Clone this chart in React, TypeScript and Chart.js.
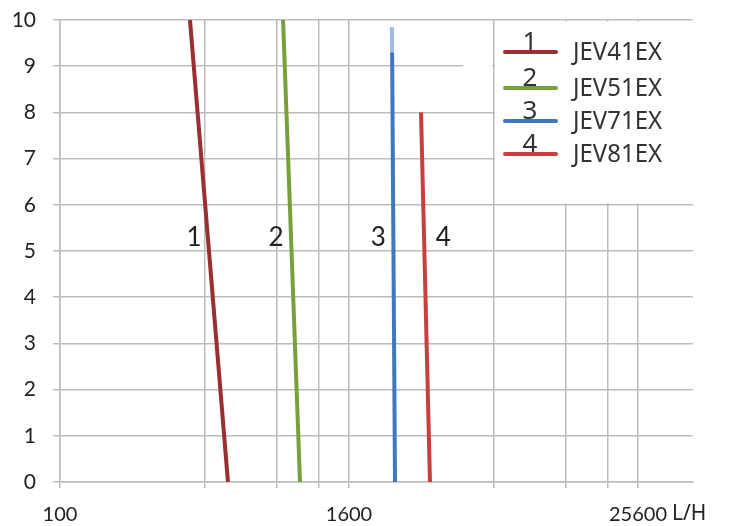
import React, { useEffect, useRef } from "react";
import { Chart, registerables } from "chart.js";

Chart.register(...registerables);

// ---- data ----
const xGridValues = [100, 400, 800, 1200, 1600, 6400, 12800, 19200, 25600];
const xLabelValues = [100, 1600, 25600];
const xUnit = "L/H";

const seriesNames = ["JEV41EX", "JEV51EX", "JEV71EX", "JEV81EX"];
const seriesNumbers = ["1", "2", "3", "4"];
const seriesColors = ["#9a2f31", "#78a03a", "#3f78c0", "#c7403e"];

const s1Flow = [348, 501];
const s1Head = [10, 0];
const s2Flow = [850, 1000];
const s2Head = [10, 0];
const s3Flow = [2420, 2488];
const s3Head = [9.3, 0];
const s3TopFlow = [2415, 2420];
const s3TopHead = [9.85, 9.3];
const s4Flow = [3193, 3480];
const s4Head = [8, 0];

// label anchor heads (in axis units) for in-plot number labels
const annotFlow = [362, 795, 2120, 3950];
const annotHead = [5.3, 5.3, 5.3, 5.3];

const toPts = (xs: number[], ys: number[]) => xs.map((x, i) => ({ x, y: ys[i] }));

const GRID = "#bdbdbd";
const TEXT = "#222222";

export default function App() {
  const ref = useRef<HTMLCanvasElement | null>(null);

  useEffect(() => {
    if (!ref.current) return;

    const overlay = {
      id: "overlay",
      beforeDatasetsDraw(chart: any) {
        const { ctx, chartArea, scales } = chart;
        const xs = scales.x;
        const ys = scales.y;
        ctx.save();
        ctx.fillStyle = "#ffffff";
        const x0 = xs.getPixelForValue(6400) + 1.5;
        ctx.fillRect(x0, ys.getPixelForValue(10) + 1.5, chartArea.right - x0 + 2, ys.getPixelForValue(6) - ys.getPixelForValue(10) - 3);
        // small gap in the 9 line before the legend box
        const gx = xs.getPixelForValue(4780);
        ctx.fillRect(gx, ys.getPixelForValue(9) - 2, x0 - gx - 3, 4);
        ctx.restore();
      },
      afterDraw(chart: any) {
        const { ctx, scales } = chart;
        const xs = scales.x;
        const ys = scales.y;
        ctx.save();
        // in-plot numbers
        ctx.fillStyle = TEXT;
        ctx.font = "26px Lato";
        ctx.textAlign = "center";
        ctx.textBaseline = "middle";
        seriesNumbers.forEach((n, i) => {
          ctx.fillText(n, xs.getPixelForValue(annotFlow[i]), ys.getPixelForValue(annotHead[i]));
        });
        // unit label
        ctx.font = "21px 'Noto Sans'";
        ctx.textAlign = "left";
        ctx.fillText(xUnit, 672, 514, 42);
        // legend
        const lx0 = 505;
        const lx1 = 556;
        const rowY = [52, 88, 121, 154];
        seriesNames.forEach((name, i) => {
          const y = rowY[i];
          ctx.strokeStyle = seriesColors[i];
          ctx.lineWidth = 4;
          ctx.lineCap = "round";
          ctx.beginPath();
          ctx.moveTo(lx0, y);
          ctx.lineTo(lx1, y);
          ctx.stroke();
          ctx.fillStyle = "#333333";
          ctx.font = "26px 'Noto Sans'";
          ctx.textAlign = "center";
          ctx.textBaseline = "alphabetic";
          ctx.fillText(seriesNumbers[i], 530, y - 2, 15);
          ctx.textAlign = "left";
          ctx.textBaseline = "middle";
          ctx.font = "25px 'Noto Sans'";
          ctx.fillText(name, 573, y + 1, 89);
        });
        ctx.restore();
      },
    };

    const lineDs = (label: string, data: any[], color: string) => ({
      label,
      data,
      borderColor: color,
      backgroundColor: color,
      borderWidth: 4,
      showLine: true,
      pointRadius: 0,
      borderCapStyle: "butt",
    });

    const chart = new Chart(ref.current, {
      type: "scatter",
      data: {
        datasets: [
          lineDs(seriesNames[0], toPts(s1Flow, s1Head), seriesColors[0]),
          lineDs(seriesNames[1], toPts(s2Flow, s2Head), seriesColors[1]),
          lineDs(seriesNames[2] + " top", toPts(s3TopFlow, s3TopHead), "#9bbde6"),
          lineDs(seriesNames[2], toPts(s3Flow, s3Head), seriesColors[2]),
          lineDs(seriesNames[3], toPts(s4Flow, s4Head), seriesColors[3]),
        ] as any,
      },
      plugins: [overlay],
      options: {
        animation: false,
        responsive: false,
        layout: { padding: { top: 20, right: 36, left: 0, bottom: 0 } },
        plugins: { legend: { display: false }, tooltip: { enabled: false } },
        scales: {
          x: {
            type: "logarithmic",
            min: 100,
            max: 43400,
            afterBuildTicks: (s: any) => {
              s.ticks = xGridValues.map((v) => ({ value: v }));
            },
            afterFit: (s: any) => {
              s.height = 44;
              s.paddingLeft = 0;
              s.paddingRight = 0;
            },
            ticks: {
              autoSkip: false,
              maxRotation: 0,
              padding: 15,
              color: TEXT,
              font: { family: "Lato", size: 20 },
              callback: (v: any) => (xLabelValues.includes(Number(v)) ? String(v) : ""),
            },
            grid: { color: GRID, lineWidth: 1.5, tickLength: 6 },
            border: { color: GRID, width: 1.5 },
          },
          y: {
            min: 0,
            max: 10,
            afterFit: (s: any) => {
              s.width = 60;
              s.paddingTop = 0;
              s.paddingBottom = 0;
            },
            ticks: {
              stepSize: 1,
              padding: 17,
              color: TEXT,
              font: { family: "Lato", size: 21 },
            },
            grid: { color: GRID, lineWidth: 1.5, tickLength: 7 },
            border: { color: GRID, width: 1.5 },
          },
        },
      } as any,
    });
    return () => chart.destroy();
  }, []);

  return (
    <div style={{ position: "fixed", left: 0, top: 0, width: 729, height: 526, background: "#fff" }}>
      <canvas ref={ref} width={729} height={526} style={{ display: "block" }} />
    </div>
  );
}
